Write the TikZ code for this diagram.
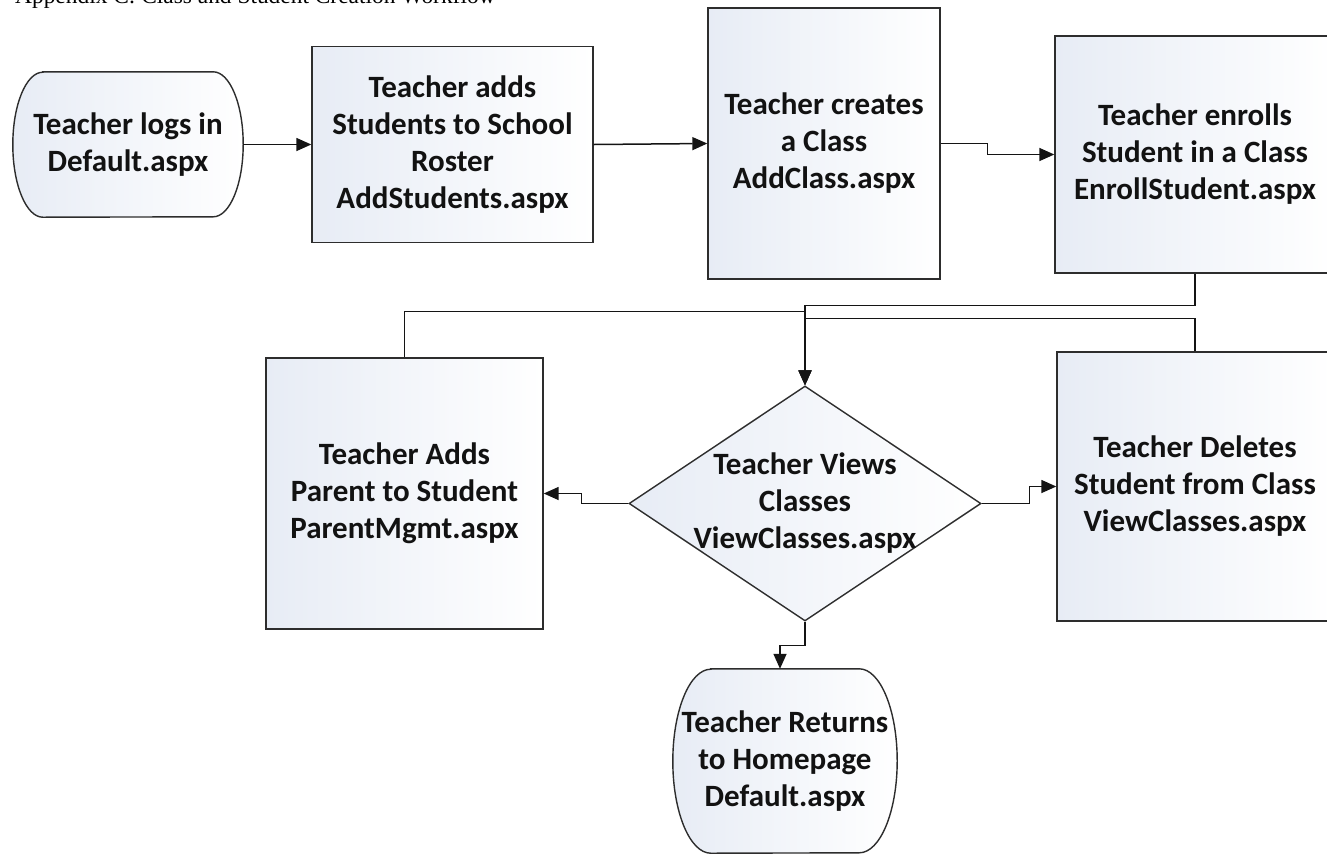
\documentclass[tikz,border=0pt]{standalone}
\usepackage{fontspec}
\setmainfont{Carlito}
\newfontfamily\headingfont{Liberation Serif}
\usetikzlibrary{shapes.geometric,arrows.meta,backgrounds}

\definecolor{edge}{RGB}{45,45,45}
\definecolor{wire}{RGB}{20,20,20}
\definecolor{tintL}{RGB}{231,236,245}
\definecolor{tintM}{RGB}{246,248,251}
\definecolor{ink}{RGB}{18,18,18}

\tikzset{
  boxfill/.style={left color=tintL, middle color=tintM, right color=white},
  label font/.style={font=\bfseries\fontsize{31}{37}\selectfont, text=ink},
  stepbox/.style={rectangle, draw=edge, line width=1.4pt, boxfill, align=center,
    inner sep=0pt, label font},
  termbox/.style={rectangle, align=center, inner sep=0pt, label font},
  termline/.style={draw=edge, line width=1.4pt, boxfill},
  decision/.style={diamond, draw=edge, line width=1.4pt, boxfill, align=center,
    inner sep=-40pt, minimum width=352pt, minimum height=235pt, label font},
  conn/.style={draw=wire, line width=1.5pt, -{Triangle[length=15pt,width=13pt]}},
}

% outline of a terminator: flat top and bottom, elliptical ends
\newcommand{\termoutline}[3]{%
  \path[termline] ([xshift=#2pt]#1.north west) -- ([xshift=-#2pt]#1.north east)
    arc[start angle=-90, end angle=90, x radius=#2, y radius=#3]
    -- ([xshift=#2pt]#1.south west)
    arc[start angle=90, end angle=270, x radius=#2, y radius=#3] -- cycle;}

\begin{document}
\begin{tikzpicture}[x=1pt, y=1pt, yscale=-1]
\useasboundingbox (0,0) rectangle (1327,863);
\begin{scope}[on background layer]
  \fill[white] (0,0) rectangle (1327,863);
\end{scope}
\clip (0,0) rectangle (1327,863);

% heading, running off the top edge
\node[anchor=base west, inner sep=0pt, font=\headingfont\fontsize{23.4}{28}\selectfont]
  (heading) at (15,3) {Appendix C: Class and Student Creation Workflow};

% top row
\node[termbox, minimum width=230pt, minimum height=145pt] (start) at (128,144.5)
  {Teacher logs in\\Default.aspx};
\node[stepbox, minimum width=281pt, minimum height=196pt] (add) at (452.5,144.5)
  {Teacher adds\\Students to School\\Roster\\AddStudents.aspx};
\node[stepbox, minimum width=232pt, minimum height=271pt] (create) at (824,143.5)
  {Teacher creates\\a Class\\AddClass.aspx};
\node[stepbox, minimum width=280pt, minimum height=237pt] (enroll) at (1195,154.5)
  {Teacher enrolls\\Student in a Class\\EnrollStudent.aspx};

% middle row
\node[stepbox, minimum width=277pt, minimum height=271pt] (parent) at (404.5,493.5)
  {Teacher Adds\\Parent to Student\\ParentMgmt.aspx};
\node[decision] (view) at (805,503.5)
  {Teacher Views\\Classes\\ViewClasses.aspx};
\node[stepbox, minimum width=276pt, minimum height=269pt] (delete) at (1195,486.5)
  {Teacher Deletes\\Student from Class\\ViewClasses.aspx};

% bottom
\node[termbox, minimum width=224pt, minimum height=184pt] (finish) at (785,761)
  {Teacher Returns\\to Homepage\\Default.aspx};

\begin{scope}[on background layer]
  \termoutline{start}{30}{72.5}
  \termoutline{finish}{38}{92}
\end{scope}

% connectors
\draw[conn] (start.east) -- (add.west);
\draw[conn] (add.east) -- (create.west);
\draw[conn] (create.east) -- ++(47,0) |- (enroll.west);
\draw[conn] (enroll.south) -- ++(0,32) -| (view.north);
\draw[conn] (parent.north) -- ++(0,-46) -| (view.north);
\draw[conn] (delete.north) -- ++(0,-33) -| (view.north);
\draw[conn] (view.west) -- ++(-47,0) |- (parent.east);
\draw[conn] (view.east) -- ++(48,0) |- (delete.west);
\draw[conn] (view.south) -- ++(0,24) -| ([xshift=-5pt]finish.north);
\end{tikzpicture}
\end{document}
